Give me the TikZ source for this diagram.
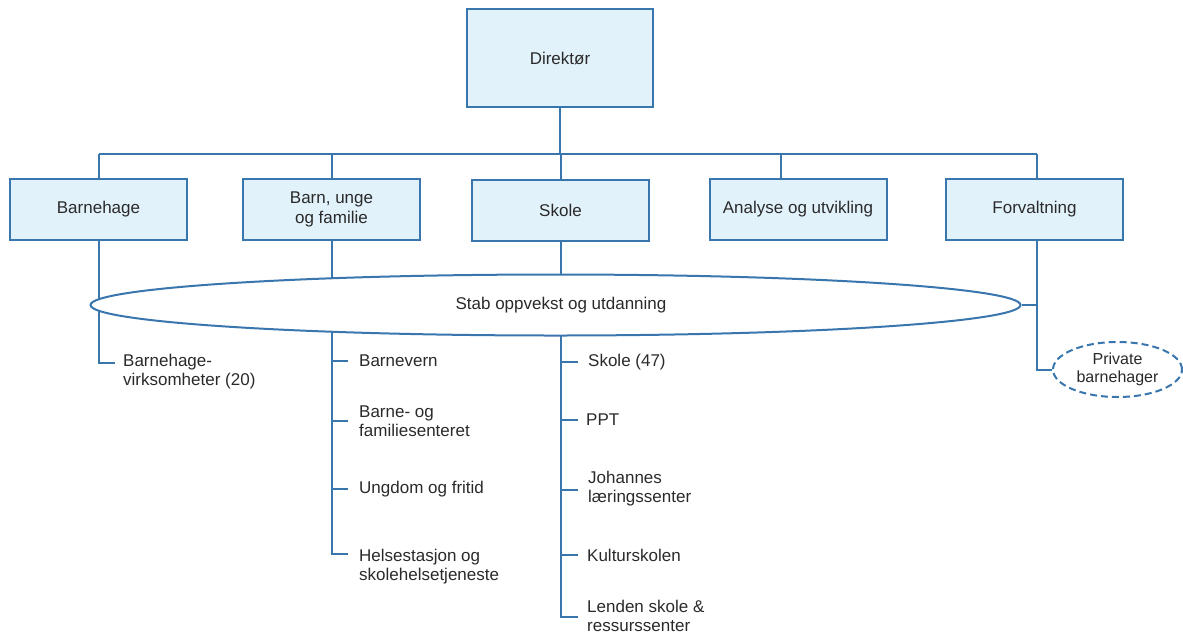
\documentclass[tikz,border=0pt]{standalone}
\usepackage{fontspec}
\setmainfont{Liberation Sans}
\usetikzlibrary{shapes.geometric,calc}
\definecolor{lineblue}{HTML}{3A76AE}
\definecolor{boxfill}{HTML}{E2F2FB}
\definecolor{txt}{HTML}{2A2A2A}
\tikzset{
  unit/.style={draw=lineblue, line width=2pt, fill=boxfill, text=txt, align=center,
    font=\fontsize{17}{19.5}\selectfont, inner sep=0pt},
  conn/.style={draw=lineblue, line width=2pt},
  item/.style={anchor=west, align=left, text=txt, inner sep=0pt,
    font=\fontsize{17}{19}\selectfont},
  stab/.style={ellipse, draw=lineblue, line width=2pt, fill=white, text=txt, inner sep=0pt,
    font=\fontsize{17}{19.5}\selectfont},
  priv/.style={ellipse, draw=lineblue, line width=2pt, dash pattern=on 7pt off 4pt, fill=white,
    text=txt, align=center, inner sep=0pt, font=\fontsize{16}{18}\selectfont}
}
\begin{document}
\begin{tikzpicture}[x=1pt,y=-1pt]
\useasboundingbox (0,0) rectangle (1183,633);
% top
\node[unit, minimum width=186pt, minimum height=98pt] (dir) at (560,58) {Direktør};
% second row
\node[unit, minimum width=177pt, minimum height=61pt] (bh) at (98.5,209.5) {Barnehage};
\node[unit, minimum width=177pt, minimum height=61pt] (bu) at (331.5,209.5) {Barn, unge\\og familie};
\node[unit, minimum width=177pt, minimum height=61pt] (sk) at (560.5,210) {Skole};
\node[unit, minimum width=177pt, minimum height=61pt] (an) at (798,209.5) {Analyse og utvikling};
\node[unit, minimum width=177pt, minimum height=61pt] (fv) at (1034.5,209.5) {Forvaltning};
% bus
\coordinate (busL) at (99,154);
\coordinate (busR) at (1037,154);
\coordinate (anTop) at (781,179);
\draw[conn] (dir.south) -- (dir.south |- busL);
\draw[conn] (busL) -- (busR);
\draw[conn] (busL) -- (busL |- bh.north);
\draw[conn] (bu.north |- busL) -- (bu.north);
\draw[conn] (sk.north |- busL) -- (sk.north);
\draw[conn] (anTop |- busL) -- (anTop);
\draw[conn] (busR) -- (busR |- fv.north);
% list items
\node[item] (bhv) at (123,371.5) {Barnehage-\\virksomheter (20)};
\node[item] (bv) at (359,361) {Barnevern};
\node[item] (bf) at (359,421) {Barne- og\\familiesenteret};
\node[item] (uf) at (359,489) {Ungdom og fritid};
\node[item] (hs) at (359,567) {Helsestasjon og\\skolehelsetjeneste};
\node[item] (s47) at (588,362) {Skole (47)};
\node[item] (ppt) at (586,420) {PPT};
\node[item] (jl) at (588,489) {Johannes\\læringssenter};
\node[item] (ks) at (587,555) {Kulturskolen};
\node[item] (ls) at (587,616) {Lenden skole \&\\ressurssenter};
% trunks
\coordinate (bhEnd) at (99,363);
\coordinate (buEnd) at (332,554);
\coordinate (skEnd) at (561,617);
\draw[conn] (bh.south -| busL) -- (bhEnd) -- ++(16,0);
\draw[conn] (bu.south -| buEnd) -- (buEnd) -- ++(16,0);
\draw[conn] (buEnd |- bv.west) -- ++(16,0);
\draw[conn] (buEnd |- bf.west) -- ++(16,0);
\draw[conn] (buEnd |- uf.west) -- ++(16,0);
\draw[conn] (sk.south -| skEnd) -- (skEnd) -- ++(17,0);
\draw[conn] (skEnd |- s47.west) -- ++(17,0);
\draw[conn] (skEnd |- ppt.west) -- ++(17,0);
\draw[conn] ($(skEnd |- jl.west)+(0,1)$) -- ++(17,0);
\draw[conn] (skEnd |- ks.west) -- ++(17,0);
% Forvaltning side
\node[priv, minimum width=129pt, minimum height=55pt] (pb) at (1117.5,369.5) {Private\\barnehager};
\coordinate (fvTurn) at (1037,369.5);
\draw[conn] (fv.south -| busR) -- (fvTurn) -- (pb.west);
% stab ellipse
\node[stab, minimum width=930pt, minimum height=61pt] (st) at (555.5,305) {\hspace{11pt}Stab oppvekst og utdanning};
\draw[conn] (st.east) -- (st.east -| busR);
\end{tikzpicture}
\end{document}
